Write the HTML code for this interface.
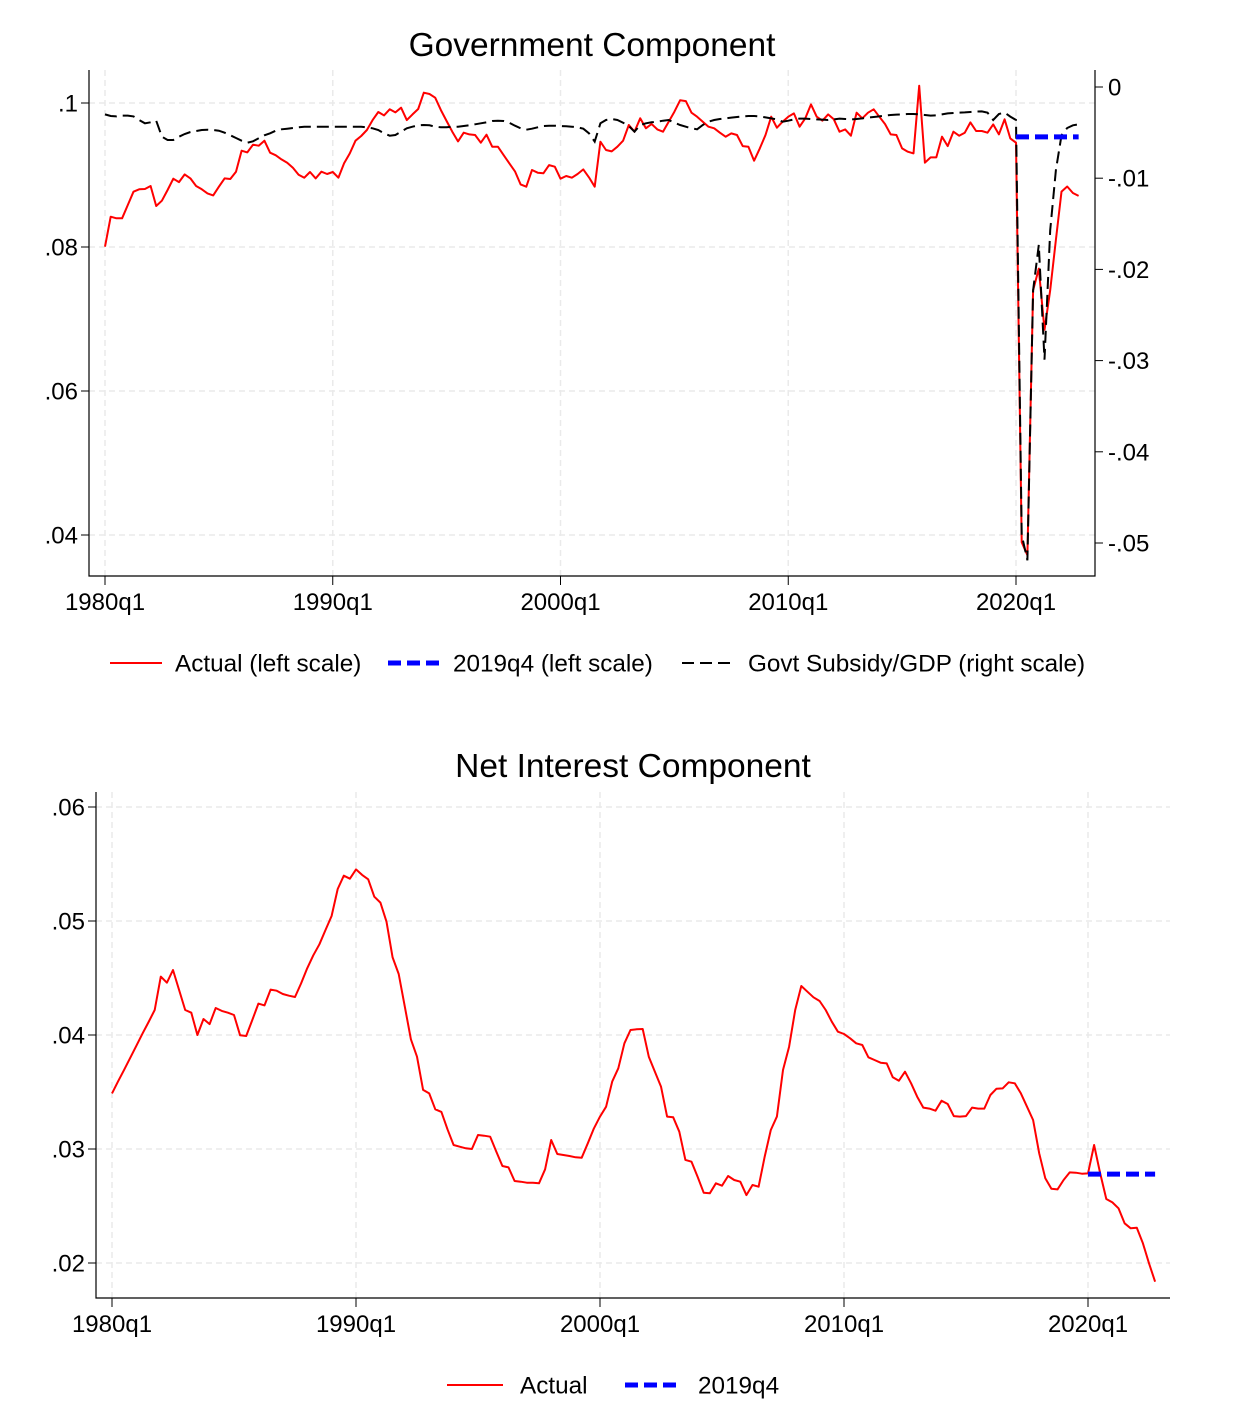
<!DOCTYPE html>
<html><head><meta charset="utf-8"><style>
html,body{margin:0;padding:0;background:#fff;}
svg{display:block;font-family:"Liberation Sans",Arial,sans-serif;}
</style></head><body>
<svg id="chart" width="1244" height="1426" viewBox="0 0 1244 1426" xmlns="http://www.w3.org/2000/svg">
<rect width="1244" height="1426" fill="#fff"/>
<text x="592" y="56" font-size="33.5" text-anchor="middle">Government Component</text>
<text x="633" y="777" font-size="33.5" text-anchor="middle">Net Interest Component</text>
<g id="top"></g>
<g id="bot"></g>
<g>
<line x1="110" y1="663" x2="162" y2="663" stroke="#f00" stroke-width="2"/>
<text x="175" y="671.5" font-size="24.3">Actual (left scale)</text>
<line x1="388" y1="663" x2="440" y2="663" stroke="#00f" stroke-width="5" stroke-dasharray="13,6"/>
<text x="453" y="671.5" font-size="24.3">2019q4 (left scale)</text>
<line x1="682" y1="663" x2="735" y2="663" stroke="#000" stroke-width="2" stroke-dasharray="12,6"/>
<text x="748" y="671.5" font-size="24.3">Govt Subsidy/GDP (right scale)</text>
</g>
<g>
<line x1="447" y1="1385" x2="503" y2="1385" stroke="#f00" stroke-width="2"/>
<text x="520" y="1393.5" font-size="24.3">Actual</text>
<line x1="625" y1="1385" x2="682" y2="1385" stroke="#00f" stroke-width="5" stroke-dasharray="13,6"/>
<text x="698" y="1393.5" font-size="24.3">2019q4</text>
</g>
</svg>
<script>
const xTickLabels = ["1980q1","1990q1","2000q1","2010q1","2020q1"];
const xTickIdx = [0,40,80,120,160];
const topLeftTicks = [0.04,0.06,0.08,0.1];
const topLeftLabels = [".04",".06",".08",".1"];
const topRightTicks = [-0.05,-0.04,-0.03,-0.02,-0.01,0];
const topRightLabels = ["-.05","-.04","-.03","-.02","-.01","0"];
const botTicks = [0.02,0.03,0.04,0.05,0.06];
const botLabels = [".02",".03",".04",".05",".06"];
const govActual = [.08004,.08421,.08398,.08398,.08583,.08768,.08801,.08805,.08847,.08569,.08643,.08791,.08949,.08902,.09009,.08953,.08847,.08801,.08745,.08717,
.08838,.08953,.08944,.09046,.09338,.09314,.09421,.09407,.09477,.09310,.09273,.09217,.09171,.09101,.09004,.08963,.09041,.08953,.09046,.09014,
.09041,.08963,.09162,.09300,.09477,.09541,.09625,.09763,.09875,.09828,.09912,.09870,.09935,.09763,.09842,.09916,.10143,.10125,.10074,.09902,
.09750,.09601,.09467,.09588,.09564,.09555,.09449,.09560,.09393,.09393,.09277,.09162,.09050,.08870,.08837,.09069,.09032,.09023,.09138,.09115,
.08949,.08986,.08963,.09014,.09078,.08967,.08837,.09463,.09347,.09328,.09393,.09477,.09694,.09601,.09787,.09648,.09708,.09634,.09601,.09740,
.09879,.10037,.10027,.09865,.09810,.09740,.09671,.09648,.09588,.09532,.09578,.09555,.09402,.09393,.09199,.09370,.09555,.09810,.09657,.09740,
.09810,.09856,.09671,.09787,.09981,.09810,.09754,.09842,.09773,.09601,.09634,.09546,.09865,.09787,.09865,.09912,.09810,.09708,.09564,.09555,
.09370,.09324,.09300,.10240,.09171,.09245,.09245,.09532,.09402,.09601,.09546,.09588,.09731,.09611,.09611,.09588,.09703,.09564,.09773,.09509,
.09449,.0390,.0372,.0740,.0770,.0685,.0740,.0810,.0877,.0884,.0875,.0871];
const govSubsidy = [-.00300,-.00318,-.00322,-.00314,-.00314,-.00322,-.00362,-.00398,-.00387,-.00369,-.00545,-.00581,-.00581,-.00545,-.00515,-.00493,-.00482,-.00471,-.00468,-.00471,
-.00479,-.00501,-.00530,-.00559,-.00589,-.00611,-.00595,-.00563,-.00530,-.00508,-.00479,-.00464,-.00457,-.00450,-.00442,-.00435,-.00435,-.00435,-.00435,-.00435,
-.00435,-.00435,-.00435,-.00435,-.00435,-.00435,-.00442,-.00453,-.00471,-.00508,-.00534,-.00526,-.00490,-.00453,-.00435,-.00420,-.00417,-.00420,-.00435,-.00442,
-.00442,-.00435,-.00435,-.00428,-.00420,-.00409,-.00398,-.00387,-.00373,-.00369,-.00373,-.00391,-.00424,-.00453,-.00468,-.00457,-.00442,-.00428,-.00424,-.00424,
-.00428,-.00431,-.00435,-.00442,-.00457,-.00508,-.00599,-.00398,-.00362,-.00351,-.00362,-.00391,-.00428,-.00490,-.00417,-.00398,-.00387,-.00380,-.00369,-.00362,
-.00391,-.00417,-.00435,-.00453,-.00464,-.00417,-.00380,-.00362,-.00351,-.00344,-.00336,-.00329,-.00322,-.00318,-.00318,-.00322,-.00333,-.00344,-.00355,-.00380,
-.00369,-.00355,-.00347,-.00347,-.00351,-.00355,-.00358,-.00362,-.00355,-.00347,-.00351,-.00355,-.00351,-.00344,-.00336,-.00329,-.00322,-.00314,-.00307,-.00303,
-.00300,-.00296,-.00296,-.00300,-.00307,-.00314,-.00311,-.00300,-.00289,-.00285,-.00281,-.00278,-.00274,-.00270,-.00267,-.00281,-.00362,-.00296,-.00281,-.00325,
-.00362,-.0491,-.0519,-.0223,-.0173,-.0299,-.0157,-.0091,-.0053,-.0045,-.0042,-.0041];
const govBaseline = 0.0953;
const netActual = [.03488,.03594,.03696,.03801,.03906,.04012,.04114,.04219,.04512,.04459,.04570,.04395,.04219,.04196,.04000,.04140,.04096,.04237,.04211,.04196,
.04175,.03997,.03991,.04132,.04275,.04260,.04398,.04389,.04360,.04345,.04333,.04453,.04585,.04699,.04796,.04921,.05044,.05281,.05397,.05371,
.05453,.05404,.05366,.05213,.05161,.04994,.04681,.04535,.04249,.03962,.03810,.03518,.03488,.03348,.03325,.03173,.03035,.03020,.03006,.03000,
.03123,.03117,.03108,.02977,.02851,.02839,.02719,.02713,.02704,.02704,.02699,.02822,.03079,.02956,.02947,.02939,.02927,.02924,.03050,.03181,
.03284,.03371,.03591,.03708,.03927,.04044,.04050,.04053,.03810,.03678,.03547,.03284,.03278,.03152,.02904,.02889,.02757,.02617,.02611,.02699,
.02678,.02763,.02728,.02713,.02596,.02684,.02669,.02933,.03167,.03284,.03693,.03897,.04219,.04430,.04380,.04331,.04298,.04219,.04117,.04029,
.04009,.03971,.03927,.03912,.03804,.03781,.03757,.03751,.03629,.03599,.03678,.03576,.03459,.03363,.03354,.03336,.03424,.03395,.03289,.03284,
.03289,.03363,.03354,.03354,.03474,.03529,.03532,.03585,.03576,.03488,.03371,.03254,.02962,.02743,.02652,.02646,.02728,.02795,.02792,.02783,
.02786,.03035,.02786,.02561,.02532,.02480,.02348,.02304,.02310,.02173,.01997,.01836];
const netBaseline = 0.0278;
const baseStart = 160, baseEnd = 171;

const NS="http://www.w3.org/2000/svg";
function mk(parent, tag, attrs){const e=document.createElementNS(NS,tag);for(const k in attrs)e.setAttribute(k,attrs[k]);parent.appendChild(e);return e;}
const FS=24;

// ---- top chart ----
const T=document.getElementById('top');
const tx=i=>105+i*(911/160);
const tyL=v=>103+(0.1-v)*7200;
const tyR=v=>87-v*9120;
const TL=89,TR=1095,TT=70,TB=576;
for(let k=0;k<topLeftTicks.length;k++){
  const y=tyL(topLeftTicks[k]);
  const g=mk(T,'line',{x1:TL,x2:TR,y1:y,y2:y,stroke:'#eaeaea','stroke-width':1.5,'stroke-dasharray':'6,4'});
  
  
  mk(T,'line',{x1:TL-8,x2:TL,y1:y,y2:y,stroke:'#000','stroke-width':1});
  const t=mk(T,'text',{x:TL-11,y:y+8.5,'font-size':FS,'text-anchor':'end'});t.textContent=topLeftLabels[k];
  
  
}
for(let k=0;k<xTickIdx.length;k++){
  const x=tx(xTickIdx[k]);
  const g=mk(T,'line',{x1:x,x2:x,y1:TT,y2:TB,stroke:'#eaeaea','stroke-width':1.5,'stroke-dasharray':'6,4'});
  
  
  mk(T,'line',{x1:x,x2:x,y1:TB,y2:TB+9,stroke:'#000','stroke-width':1});
  const t=mk(T,'text',{x:x,y:610,'font-size':FS,'text-anchor':'middle'});t.textContent=xTickLabels[k];
  
  
}
for(let k=0;k<topRightTicks.length;k++){
  const y=tyR(topRightTicks[k]);
  mk(T,'line',{x1:TR,x2:TR+8,y1:y,y2:y,stroke:'#000','stroke-width':1});
  const t=mk(T,'text',{x:TR+13,y:y+8.5,'font-size':FS});t.textContent=topRightLabels[k];
  
  
}
mk(T,'polyline',{points:`${TL},${TT} ${TL},${TB} ${TR},${TB} ${TR},${TT}`,fill:'none',stroke:'#000','stroke-width':1.2});
let p=mk(T,'polyline',{points:govActual.map((v,i)=>tx(i).toFixed(1)+','+tyL(v).toFixed(1)).join(' '),fill:'none',stroke:'#f00','stroke-width':2,'stroke-linejoin':'round'});


p=mk(T,'polyline',{points:govSubsidy.map((v,i)=>tx(i).toFixed(1)+','+tyR(v).toFixed(1)).join(' '),fill:'none',stroke:'#000','stroke-width':2,'stroke-dasharray':'12,6'});


p=mk(T,'line',{x1:tx(baseStart),x2:tx(baseEnd),y1:tyL(govBaseline),y2:tyL(govBaseline),stroke:'#00f','stroke-width':5,'stroke-dasharray':'13,6'});



// ---- bottom chart ----
const B=document.getElementById('bot');
const bx=i=>112+i*(976/160);
const by=v=>807+(0.06-v)*11400;
const BL=96,BR=1170,BT=792,BB=1298;
for(let k=0;k<botTicks.length;k++){
  const y=by(botTicks[k]);
  const g=mk(B,'line',{x1:BL,x2:BR,y1:y,y2:y,stroke:'#eaeaea','stroke-width':1.5,'stroke-dasharray':'6,4'});
  
  
  mk(B,'line',{x1:BL-8,x2:BL,y1:y,y2:y,stroke:'#000','stroke-width':1});
  const t=mk(B,'text',{x:BL-11,y:y+8.5,'font-size':FS,'text-anchor':'end'});t.textContent=botLabels[k];
  
  
}
for(let k=0;k<xTickIdx.length;k++){
  const x=bx(xTickIdx[k]);
  const g=mk(B,'line',{x1:x,x2:x,y1:BT,y2:BB,stroke:'#eaeaea','stroke-width':1.5,'stroke-dasharray':'6,4'});
  
  
  mk(B,'line',{x1:x,x2:x,y1:BB,y2:BB+9,stroke:'#000','stroke-width':1});
  const t=mk(B,'text',{x:x,y:1332,'font-size':FS,'text-anchor':'middle'});t.textContent=xTickLabels[k];
  
  
}
mk(B,'polyline',{points:`${BL},${BT} ${BL},${BB} ${BR},${BB}`,fill:'none',stroke:'#000','stroke-width':1.2});
p=mk(B,'polyline',{points:netActual.map((v,i)=>bx(i).toFixed(1)+','+by(v).toFixed(1)).join(' '),fill:'none',stroke:'#f00','stroke-width':2,'stroke-linejoin':'round'});


p=mk(B,'line',{x1:bx(baseStart),x2:bx(baseEnd),y1:by(netBaseline),y2:by(netBaseline),stroke:'#00f','stroke-width':5,'stroke-dasharray':'13,6'});


</script>
</body></html>
